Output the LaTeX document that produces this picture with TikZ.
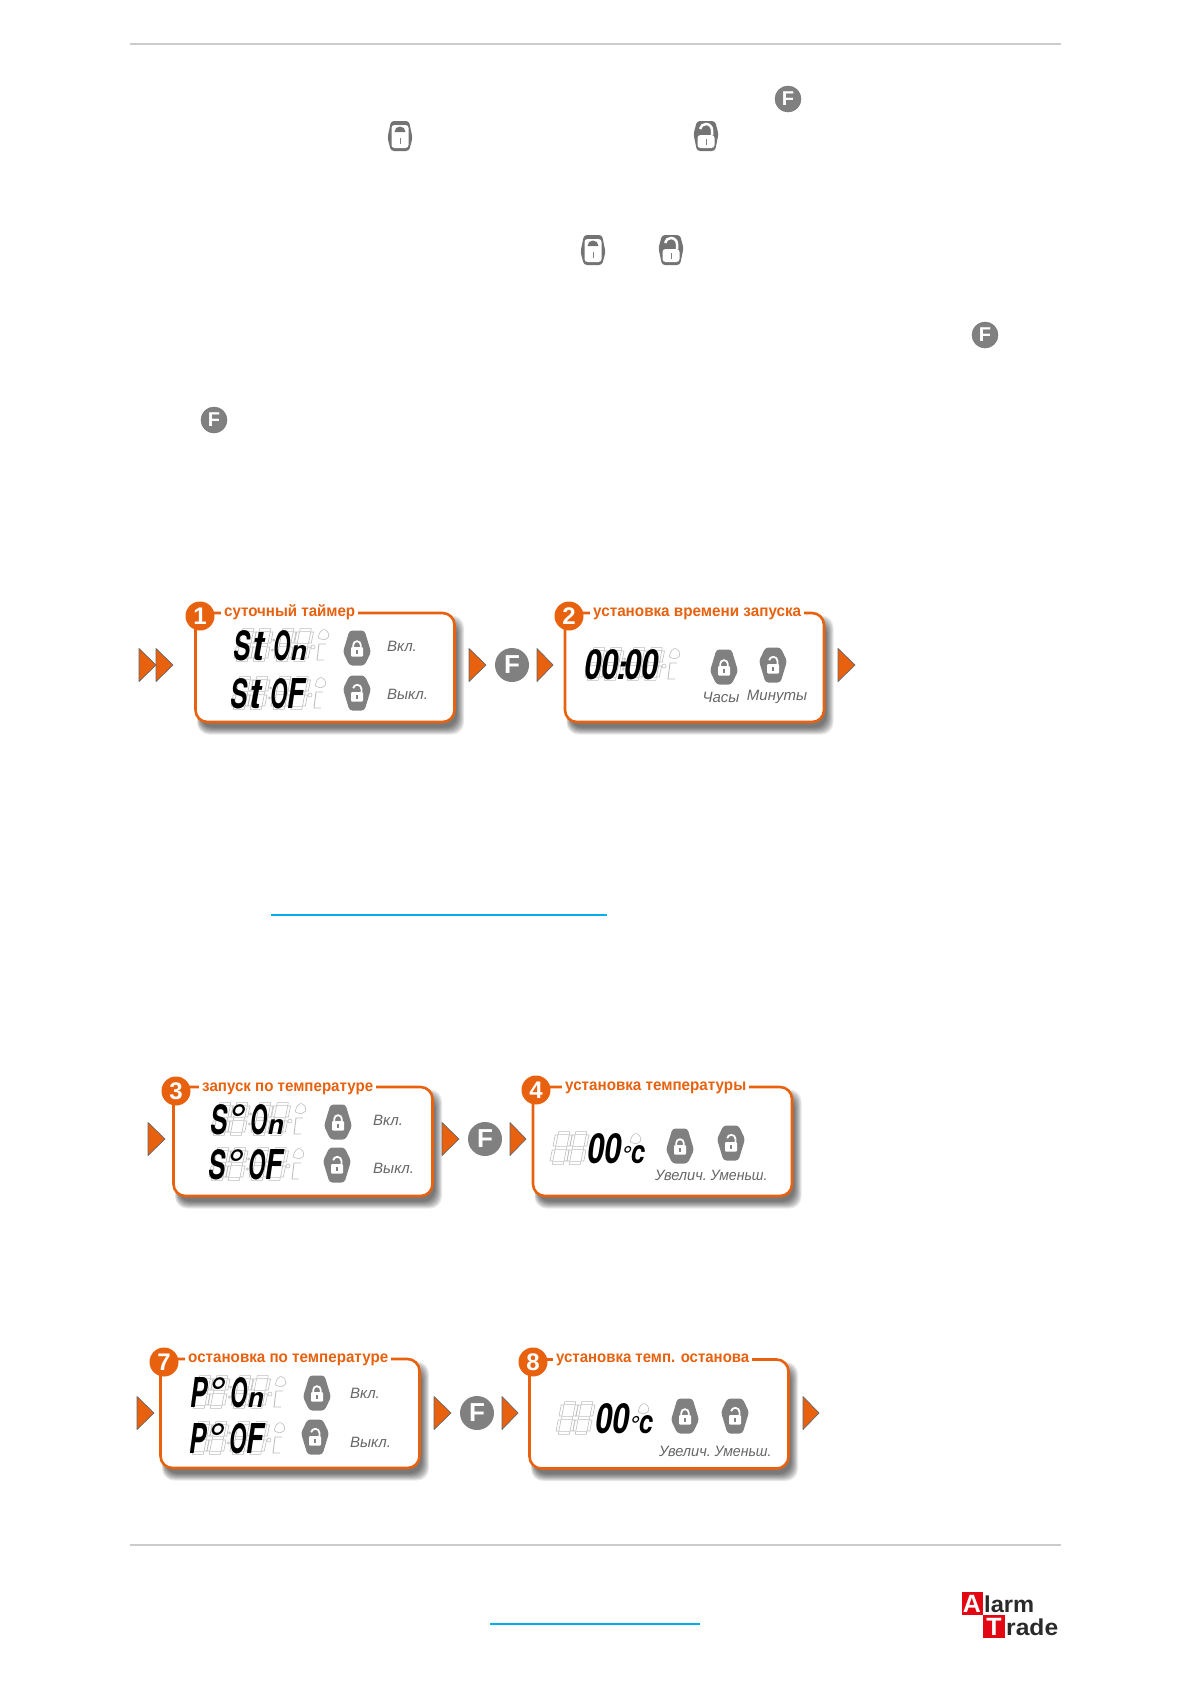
\documentclass[tikz,border=0pt]{standalone}
\usepackage{fontspec}
\usepackage{graphicx}
\setmainfont{Liberation Sans}
\newfontfamily\lcdf{TeX Gyre Heros}
\definecolor{orng}{HTML}{E8610F}
\definecolor{btn}{HTML}{808080}
\definecolor{lbl}{HTML}{666666}
\definecolor{ghost}{HTML}{BEBEBE}
\definecolor{rulec}{HTML}{CCCCCC}
\definecolor{linkc}{HTML}{00AEEF}
\definecolor{logor}{HTML}{E30613}
\definecolor{logod}{HTML}{2A2A2A}
\newcommand\fs[1]{\fontsize{#1}{#1}\selectfont}
\newcommand\lcdc[1]{\makebox[16.5pt]{\resizebox{17pt}{30pt}{#1}}}
\newcommand\lcdt{\makebox[16.5pt]{\resizebox{12pt}{28pt}{t}}}
\newcommand\lcdn{\makebox[16.5pt]{\resizebox{16pt}{15pt}{n}}}
\newcommand\lcdo{\makebox[16.5pt]{°}}
\newcommand\lcddeg{\resizebox{14pt}{18pt}{c}}
\tikzset{
  x=1pt,y=-1pt,
  panel/.style={draw=orng,line width=2.6pt,rounded corners=12pt,fill=white,minimum width=259pt,minimum height=109pt,inner sep=0pt},
  numdisc/.style={circle,fill=orng,minimum size=29pt,inner sep=0pt,text=white,font=\bfseries\fs{24}},
  paneltitle/.style={fill=white,inner xsep=3pt,inner ysep=0.5pt,anchor=base west,text=orng,font=\bfseries\fs{16}},
  fbig/.style={circle,fill=btn,minimum size=34pt,inner sep=0pt,text=white,font=\bfseries\fs{26}},
  fsmall/.style={circle,fill=btn,draw=black!55,line width=.5pt,minimum size=26pt,inner sep=0pt,text=white,font=\bfseries\fs{20}},
  keylabel/.style={text=lbl,inner sep=0pt,font=\itshape\fs{15}},
  lcdtext/.style={inner sep=0pt,anchor=base west,text=black,font=\lcdf\bfseries\itshape\fs{42}},
  tri/.style={fill=orng,draw=black!60,line width=.7pt,line join=round},
  ruleline/.style={draw=rulec,line width=1.3pt},
  linkline/.style={draw=linkc,line width=1.6pt},
  ghostline/.style={draw=ghost,line width=.6pt},
  pics/lockshut/.style={code={
    \fill[btn,rounded corners=3pt] (-7.5,-17.5)--(7.5,-17.5)--(14,4)--(7.5,17.5)--(-7.5,17.5)--(-14,4)--cycle;
    \fill[white,rounded corners=1pt] (-6,-1) rectangle (6,8.5);
    \draw[white,line width=1.8pt] (-3.8,-1)--(-3.8,-3) arc[start angle=180,end angle=360,radius=3.8] --(3.8,-1);
    \fill[btn] (-.6,2) rectangle (.6,6);
  }},
  pics/lockopen/.style={code={
    \fill[btn,rounded corners=3pt] (-7.5,-17.5)--(7.5,-17.5)--(14,-4)--(7.5,17.5)--(-7.5,17.5)--(-14,-4)--cycle;
    \fill[white,rounded corners=1pt] (-6,-1) rectangle (6,8.5);
    \draw[white,line width=1.8pt] (4.5,-1)--(4.5,-4) arc[start angle=360,end angle=190,radius=4.2];
    \fill[btn] (-.6,2) rectangle (.6,6);
  }},
  pics/inshut/.style={code={
    \fill[btn!90!black,rounded corners=3pt] (-9,-15)--(9,-15)--(12.5,2)--(9,15)--(-9,15)--(-12.5,2)--cycle;
    \fill[white,rounded corners=3pt] (-8.5,-11) rectangle (8.5,12);
    \fill[btn!90!black] (-5.5,-4) arc[start angle=180,end angle=360,radius=5.5] --cycle;
    \fill[btn] (-.5,2) rectangle (.5,8);
  }},
  pics/inopen/.style={code={
    \fill[btn!90!black,rounded corners=3pt] (-9,-15)--(9,-15)--(12.5,-2)--(9,15)--(-9,15)--(-12.5,-2)--cycle;
    \fill[white,rounded corners=3pt] (-8.5,-1) rectangle (8.5,12);
    \draw[white,line width=2.5pt] (6,-1)--(6,-6) arc[start angle=360,end angle=190,radius=6];
    \fill[btn] (-.5,3) rectangle (.5,9);
  }},
}
% soft shadow under a panel centred at #1,#2
\newcommand\panelshadow[2]{%
  \foreach \d in {6,5,4,3,2,1,0,-1}{%
    \fill[black,opacity=.085,rounded corners=12pt]
      (#1-125-\d*.5,#2-46-\d) rectangle (#1+133+\d,#2+61+\d);}}
\newcommand\trig[3]{\draw[tri] (#1,#3-16.5)--(#2,#3)--(#1,#3+16.5)--cycle;}
% one ghost seven-segment cell
\newcommand\gcell[2]{%
  \begin{scope}[shift={(#1,#2)},xslant=.2]
    \foreach \yy in {-15,0,15}{\draw[ghostline] (-5.5,\yy-1.4) rectangle (5.5,\yy+1.4);}
    \foreach \xx in {-7,7}{%
      \draw[ghostline] (\xx-1.4,-13) rectangle (\xx+1.4,-2);
      \draw[ghostline] (\xx-1.4,2) rectangle (\xx+1.4,13);}
  \end{scope}}
\newcommand\gdots[2]{\draw[ghostline] (#1+.7,#2-5) circle[radius=1.1] (#1-.7,#2+5) circle[radius=1.1];}
\newcommand\gbell[2]{\draw[ghostline,rounded corners=1pt] (#1-5,#2+4)--(#1-3,#2-2)--(#1+1,#2-5)--(#1+5,#2-2)--(#1+6,#2+3)--(#1+1,#2+6)--cycle;}
\newcommand\gdeg[2]{\draw[ghostline] (#1-7,#2-5) circle[radius=2];
  \draw[ghostline,line width=.9pt] (#1+6,#2-8)--(#1-1,#2-8)--(#1-3,#2+8)--(#1+4,#2+8);}
% ghost row: x of first cell, y of row
\newcommand\grow[2]{%
  \gcell{#1}{#2}\gcell{#1+17}{#2}\gdots{#1+28}{#2}\gcell{#1+40}{#2}\gcell{#1+57.5}{#2}%
  \gbell{#1+78}{#2-11}\gdeg{#1+75}{#2+7}}
\begin{document}
\begin{tikzpicture}
\useasboundingbox (0,0) rectangle (1190,1684);
\fill[white] (0,0) rectangle (1190,1684);

% rules and link underlines
\coordinate (rt1) at (130,44);  \coordinate (rt2) at (1061,44);
\coordinate (rb1) at (130,1545);\coordinate (rb2) at (1061,1545);
\coordinate (l1a) at (271,915); \coordinate (l1b) at (607,915);
\coordinate (l2a) at (490,1624);\coordinate (l2b) at (700,1624);
\draw[ruleline] (rt1)--(rt2);
\draw[ruleline] (rb1)--(rb2);
\draw[linkline] (l1a)--(l1b);
\draw[linkline] (l2a)--(l2b);

% inline key icons
\node[fsmall] (if1) at (788,99) {F};
\pic at (400,136) {inshut};
\pic at (706,136) {inopen};
\pic at (593,250) {inshut};
\pic at (671,250) {inopen};
\node[fsmall] (if2) at (985,335) {F};
\node[fsmall] (if3) at (214,420) {F};

% ---------- row 1
\trig{139}{156}{665}\trig{156}{173}{665}
\panelshadow{325}{667.5}
\node[panel] (p1) at (325,667.5) {};
\node[paneltitle] (t1) at (221,616) {\resizebox{131pt}{\height}{суточный таймер}};
\node[numdisc] (n1) at (200,616) {1};
\grow{245}{645}\grow{242}{693}
\node[lcdtext] (d1a) at (234,660) {\lcdc{S}\lcdt\hspace{7pt}\lcdc{O}\lcdn};
\node[lcdtext] (d1b) at (231,708) {\lcdc{S}\lcdt\hspace{7pt}\lcdc{O}\lcdc{F}};
\pic at (357,648) {lockshut};
\pic at (357,693) {lockopen};
\node[keylabel,anchor=west] (k1a) at (387,646) {Вкл.};
\node[keylabel,anchor=west] (k1b) at (387,694) {Выкл.};
\trig{469}{486}{665}
\node[fbig] (f1) at (512,665) {F};
\trig{537}{553}{665}
\panelshadow{694.5}{667.5}
\node[panel] (p2) at (694.5,667.5) {};
\node[paneltitle] (t2) at (590,616) {\resizebox{208pt}{\height}{установка времени запуска}};
\node[numdisc] (n2) at (569,616) {2};
\grow{596}{664}
\node[lcdtext] (d2) at (585,679) {\lcdc{0}\lcdc{0}\makebox[7pt]{\scalebox{.8}{:}}\lcdc{0}\lcdc{0}};
\pic at (724,667) {lockshut};
\pic at (773,665) {lockopen};
\node[keylabel] (k2a) at (721,697) {Часы};
\node[keylabel] (k2b) at (777,697) {Минуты};
\trig{838}{855}{665}

% ---------- row 2
\trig{148}{165}{1139}
\panelshadow{303}{1141.5}
\node[panel] (p3) at (303,1141.5) {};
\node[paneltitle] (t3) at (199,1091) {\resizebox{171pt}{\height}{запуск по температуре}};
\node[numdisc] (n3) at (176,1091) {3};
\grow{222}{1119}\grow{220}{1164}
\node[lcdtext] (d3a) at (211,1134) {\lcdc{S}\lcdo\hspace{7pt}\lcdc{O}\lcdn};
\node[lcdtext] (d3b) at (209,1179) {\lcdc{S}\lcdo\hspace{7pt}\lcdc{O}\lcdc{F}};
\pic at (338,1122) {lockshut};
\pic at (337,1165) {lockopen};
\node[keylabel,anchor=west] (k3a) at (373,1120) {Вкл.};
\node[keylabel,anchor=west] (k3b) at (373,1168) {Выкл.};
\trig{442}{459}{1139}
\node[fbig] (f2) at (485,1139) {F};
\trig{510}{526}{1139}
\panelshadow{662.5}{1141.5}
\node[panel] (p4) at (662.5,1141.5) {};
\node[paneltitle] (t4) at (562,1090) {\resizebox{181pt}{\height}{установка температуры}};
\node[numdisc] (n4) at (536,1090) {4};
\gcell{561}{1148}\gcell{578}{1148}\gbell{635}{1138}
\node[lcdtext] (d4) at (588,1163) {\lcdc{0}\lcdc{0}{\fs{24}°}\lcddeg};
\pic at (680,1146) {lockshut};
\pic at (731,1143) {lockopen};
\node[keylabel] (k4a) at (681,1175) {\resizebox{52pt}{\height}{Увелич.}};
\node[keylabel] (k4b) at (739,1175) {\resizebox{57pt}{\height}{Уменьш.}};

% ---------- row 3
\trig{137}{154}{1413}
\panelshadow{290}{1413.5}
\node[panel] (p7) at (290,1413.5) {};
\node[paneltitle] (t7) at (185,1362) {\resizebox{200pt}{\height}{остановка по температуре}};
\node[numdisc] (n7) at (164,1362) {7};
\grow{202}{1392}\grow{201}{1438}
\node[lcdtext] (d7a) at (191,1407) {\lcdc{P}\lcdo\hspace{7pt}\lcdc{O}\lcdn};
\node[lcdtext] (d7b) at (190,1453) {\lcdc{P}\lcdo\hspace{7pt}\lcdc{O}\lcdc{F}};
\pic at (317,1393) {lockshut};
\pic at (315,1437) {lockopen};
\node[keylabel,anchor=west] (k7a) at (350,1393) {Вкл.};
\node[keylabel,anchor=west] (k7b) at (350,1442) {Выкл.};
\trig{434}{451}{1413}
\node[fbig] (f3) at (477,1413) {F};
\trig{502}{518}{1413}
\panelshadow{659}{1414}
\node[panel] (p8) at (659,1414) {};
\node[paneltitle] (t8) at (553,1362) {\resizebox{193pt}{\height}{установка темп. останова}};
\node[numdisc] (n8) at (533,1362) {8};
\gcell{567}{1418}\gcell{584}{1418}\gbell{643}{1408}
\node[lcdtext] (d8) at (596,1433) {\lcdc{0}\lcdc{0}{\fs{24}°}\lcddeg};
\pic at (685,1416) {lockshut};
\pic at (735,1416) {lockopen};
\node[keylabel] (k8a) at (685,1451) {\resizebox{52pt}{\height}{Увелич.}};
\node[keylabel] (k8b) at (743,1451) {\resizebox{57pt}{\height}{Уменьш.}};
\trig{803}{819}{1413}

% ---------- logo
\node[fill=logor,text=white,minimum width=21pt,minimum height=23pt,inner sep=0pt,font=\bfseries\fs{25}] (la) at (972,1603.5) {A};
\node[anchor=west,inner sep=0pt,text=logod,font=\bfseries\fs{23}] (lb) at (984,1604) {\resizebox{50pt}{\height}{larm}};
\node[fill=logor,text=white,minimum width=22pt,minimum height=23pt,inner sep=0pt,font=\bfseries\fs{25}] (lc) at (994,1626.5) {T};
\node[anchor=west,inner sep=0pt,text=logod,font=\bfseries\fs{23}] (ld) at (1006,1627) {\resizebox{52pt}{\height}{rade}};
\end{tikzpicture}
\end{document}
